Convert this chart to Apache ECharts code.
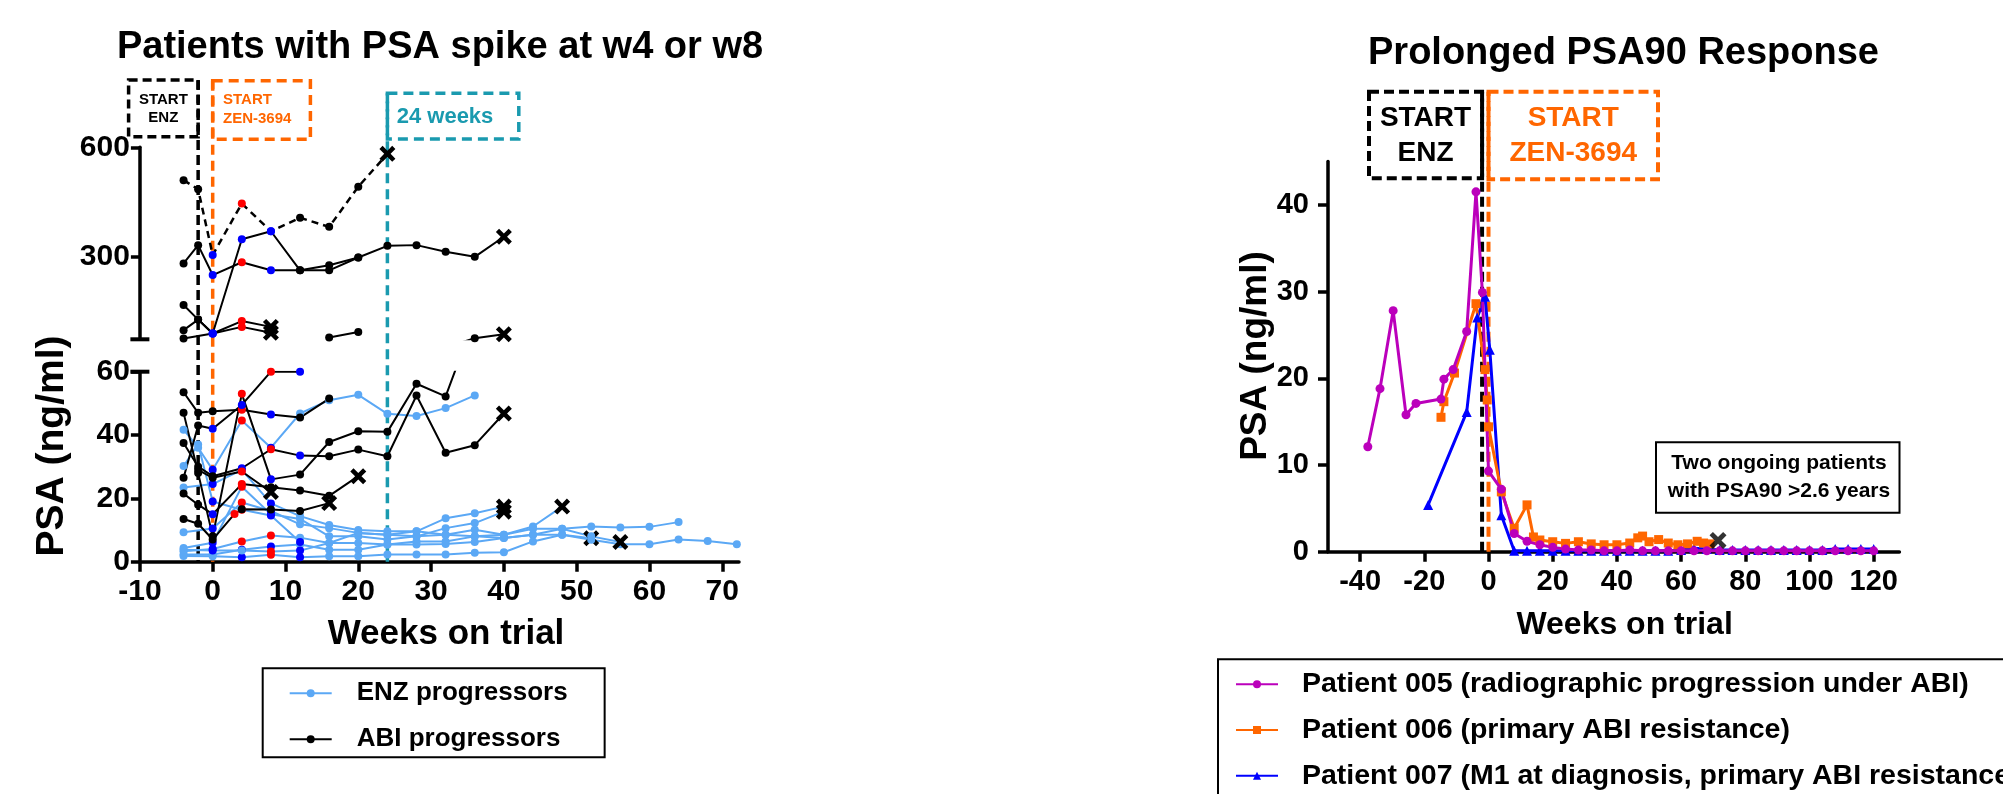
<!DOCTYPE html>
<html><head><meta charset="utf-8">
<script src="https://cdn.jsdelivr.net/npm/echarts@6/dist/echarts.min.js"></script>
<style>html,body{margin:0;padding:0;background:#fff}#c{width:2003px;height:794px}</style>
</head><body><div id="c"></div>
<script>
// ---------------- LEFT PANEL DATA: [week, PSA, flag]  flag: r = red point, b = blue point, x = progression
const leftWeekTicks = [-10, 0, 10, 20, 30, 40, 50, 60, 70];
const lowerPsaTicks = [0, 20, 40, 60];
const upperPsaTicks = [300, 600];

// ENZ progressors
const enz1 = [[-4,41.7],[-2,36],[0,29,'b'],[4,44.6,'r'],[8,36,'b'],[12,46.8],[16,51],[20,52.7],[24,46.7],[28,46],[32,48.5],[36,52.5]];
const enz2 = [[-4,23.4],[0,24.5,'b'],[4,29,'b'],[8,18.4,'b'],[12,14.4],[16,11.6],[20,10],[24,9.6],[28,9.6],[32,13.7],[36,15.3],[40,17.4,'x']];
const enz3 = [[-4,9.3],[0,10.5,'b'],[4,18.7,'r'],[8,16,'b'],[12,11.8],[16,10.6],[20,9.1],[24,8.5],[28,8.0],[32,10.6],[36,12.2],[40,15.8,'x']];
const enz4 = [[-4,4.3],[0,6,'b'],[4,23.7,'r'],[8,15,'b'],[12,13.5],[16,8.0],[20,8.0],[24,7.0],[28,8.0],[32,8.5],[36,10.1],[40,8.5],[44,11.1],[48,17.4,'x']];
const enz5 = [[-4,3.3],[0,4,'b'],[4,6.4,'r'],[8,8.3,'r'],[12,7.6],[16,5.9],[20,5.9],[24,5.4],[28,6.4],[32,6.4],[36,8.0],[40,7.5],[44,8.5],[48,10.4],[52,11.1],[56,10.8],[60,11],[64,12.5]];
const enz6 = [[-4,2.3],[0,2.3],[4,3.8,'b'],[8,4.8,'b'],[12,5.4],[16,3.8],[20,3.8],[24,5.4],[28,5.4],[32,5.6],[36,6.2],[40,7.5],[44,8.5],[48,8.5],[52,7.4,'x']];
const enz7 = [[-4,1.8],[0,1.7],[4,1.4,'b'],[8,2.2,'r'],[12,1.4,'b'],[16,1.7],[20,1.7],[24,2.3],[28,2.3],[32,2.3],[36,2.8],[40,3.0],[44,6.4],[48,8.5],[52,6.9],[56,5.5],[60,5.5],[64,7],[68,6.5],[72,5.5]];
const enz8 = [[-4,3.8],[0,3.5,'b'],[4,3.5],[8,3.2,'r'],[12,3.5,'b'],[16,5.9],[20,9.1],[24,8.5],[28,9.6],[32,8.5],[36,8.0],[40,8.5],[44,10.4],[48,10.4],[52,8],[56,6.2,'x']];
const enz9 = [[-4,30.2],[-2,37],[0,19,'b'],[4,16.4,'r'],[8,14.6,'b'],[12,6.2,'b']];
const enzPatients = [enz1, enz2, enz3, enz4, enz5, enz6, enz7, enz8, enz9];

// ABI progressors
const abi1 = [[-4,282],[-2,332],[0,250,'b'],[4,285,'r'],[8,263,'b'],[12,263],[16,263],[20,298],[24,330],[28,332],[32,314],[36,300],[40,355,'x']];
const abi2 = [[-4,510],[-2,485],[0,305,'b'],[4,446,'r'],[8,370,'b'],[12,407],[16,382],[20,492],[24,582,'x']];
const abi3 = [[-4,76],[0,90,'b'],[4,348,'b'],[8,370,'b'],[12,263],[16,277],[20,298]];
const abi4 = [[-4,168],[-2,128],[0,90,'b'],[4,124,'r'],[8,108,'x']];
const abi5 = [[-4,99],[-2,128],[0,90,'b'],[4,108,'r'],[8,92,'x']];
const abi6 = [[16,79],[20,94]];
const abi7 = [[-4,47],[-2,28],[0,8],[4,53,'r'],[8,26,'b'],[12,27.5],[16,37.8],[20,41.2],[24,41],[28,56.2],[32,52.2],[36,77],[40,88,'x']];
const abi8 = [[-4,53.5],[-2,47],[0,47.5],[4,48,'r'],[8,46.5,'b'],[12,45.5],[16,51.5]];
const abi9 = [[-4,37.5],[-2,30],[0,27],[4,29.5,'b'],[8,35.5,'r'],[12,33.5,'b'],[16,33.3],[20,35.4],[24,33.3],[28,52.5],[32,34.4],[36,36.8],[40,46.8,'x']];
const abi10 = [[-4,26.5],[-2,43],[0,42,'b'],[4,49.5,'b'],[8,60,'r'],[12,60,'b']];
const abi11 = [[-4,21.5],[-2,18],[0,15,'b'],[4,24.5,'r'],[8,23.5],[12,22.5],[16,20.8],[20,27,'x']];
const abi12 = [[-4,13.5],[-2,12],[0,7],[3,15.1,'r'],[4,16.6],[8,16.5],[12,16],[16,18.5,'x']];
const abi13 = [[-2,29],[0,26.5],[4,28.5,'r'],[8,22,'x']];
const abiPatients = [abi1, abi3, abi4, abi5, abi6, abi7, abi8, abi9, abi10, abi11, abi12, abi13];
const abiDashedPatients = [abi2];

// ---------------- RIGHT PANEL DATA
const rightWeekTicks = [-40, -20, 0, 20, 40, 60, 80, 100, 120];
const rightPsaTicks = [0, 10, 20, 30, 40];
const p005Name = 'Patient 005 (radiographic progression under ABI)';
const p006Name = 'Patient 006 (primary ABI resistance)';
const p007Name = 'Patient 007 (M1 at diagnosis, primary ABI resistance)';
const p005Weeks = [-37.6,-33.8,-29.7,-25.7,-22.6,-14.8,-13.9,-11,-6.8,-3.9,-1.9,0,4,8,12,16,20,24,28,32,36,40,44,48,52,56,60,64,68,72,76,80,84,88,92,96,100,104,108,112,116,120];
const p005Psa = [12.1,18.8,27.8,15.8,17.1,17.6,19.9,21.0,25.4,41.5,29.9,9.3,7.2,2.1,1.2,0.8,0.5,0.3,0.2,0.2,0.1,0.1,0.2,0.1,0.1,0.1,0.1,0.1,0.1,0.1,0.1,0.1,0.1,0.1,0.1,0.1,0.1,0.1,0.1,0.1,0.1,0.1];
const p006Weeks = [-14.8,-13.9,-10.6,-3.9,-1.1,-0.4,0,4,8,12,14,16,20,24,28,32,36,40,44,46.5,48,50,53,56,59,62,65,67,69];
const p006Psa = [15.5,17.3,20.6,28.6,21.0,17.5,14.4,6.9,2.7,5.4,1.7,1.35,1.15,0.96,1.15,0.9,0.8,0.8,1.0,1.6,1.8,1.15,1.4,1.0,0.8,0.9,1.2,1.0,0.9];
const p007Weeks = [-18.8,-6.8,-3.5,-1.1,0.4,4,8,12,16,20,24,28,32,36,40,44,48,52,56,60,64,68,72,76,80,84,88,92,96,100,104,108,112,116,120];
const p007Psa = [5.4,16.1,27.0,29.4,23.3,4.2,0.1,0.1,0.1,0.1,0.1,0.1,0.1,0.1,0.1,0.1,0.1,0.1,0.1,0.2,0.4,0.3,0.2,0.2,0.2,0.2,0.2,0.2,0.2,0.2,0.2,0.3,0.3,0.3,0.3];
const progressionMark = [[71.5, 1.3]];

// ---------------- STYLE
const FONT = '"Liberation Sans", Arial, Helvetica, sans-serif';
const RED = '#FF0000', BLUE = '#0000FF', ENZC = '#5BA8F5', ORANGE = '#FF6600', TEAL = '#1A9AAF', MAG = '#BB00BB';
const XPATH = 'path://M0,2L2,0L5,3L8,0L10,2L7,5L10,8L8,10L5,7L2,10L0,8L3,5Z';

function items(arr, xSize) {
  return arr.map(p => {
    const it = { value: [p[0], p[1]] };
    if (p[2] === 'r') it.itemStyle = { color: RED };
    else if (p[2] === 'b') it.itemStyle = { color: BLUE };
    else if (p[2] === 'x') { it.symbol = XPATH; it.symbolSize = xSize; it.itemStyle = { color: '#000' }; }
    return it;
  });
}

const series = [];
function addLeft(arr, name, color, dashed) {
  [0, 1].forEach(g => series.push({
    type: 'line', name, xAxisIndex: g, yAxisIndex: g, data: items(arr, 16),
    symbol: 'circle', symbolSize: 8, clip: true,
    lineStyle: { color, width: dashed ? 2.5 : 2, type: dashed ? [7, 5] : 'solid' },
    itemStyle: { color }, emphasis: { disabled: true }
  }));
}
enzPatients.forEach(a => addLeft(a, 'ENZ progressors', ENZC, false));
abiPatients.forEach(a => addLeft(a, 'ABI progressors', '#000', false));
abiDashedPatients.forEach(a => addLeft(a, 'ABI progressors', '#000', true));

function rightSeries(name, weeks, psa, color, symbol, size) {
  return {
    type: 'line', name, xAxisIndex: 2, yAxisIndex: 2,
    data: weeks.map((w, i) => [w, psa[i]]),
    symbol, symbolSize: size, lineStyle: { color, width: 3 }, itemStyle: { color },
    emphasis: { disabled: true }
  };
}
series.push(rightSeries(p007Name, p007Weeks, p007Psa, BLUE, 'triangle', 10));
series.push(rightSeries(p006Name, p006Weeks, p006Psa, ORANGE, 'rect', 9));
series.push(rightSeries(p005Name, p005Weeks, p005Psa, MAG, 'circle', 9));
series.push({ type: 'scatter', name: 'progression', xAxisIndex: 2, yAxisIndex: 2, data: progressionMark,
  symbol: XPATH, symbolSize: 17, itemStyle: { color: '#000' }, z: 5 });

const lab = (size, margin, vals) => ({ customValues: vals, fontSize: size, fontWeight: 'bold', color: '#000', fontFamily: FONT, margin });
const axLine = w => ({ show: true, onZero: false, lineStyle: { color: '#000', width: w } });
const tick = (len, w, vals) => ({ show: true, length: len, customValues: vals, lineStyle: { color: '#000', width: w } });

const option = {
  animation: false,
  backgroundColor: '#fff',
  grid: [
    { left: 139.9, top: 371.7, width: 599.1, height: 190 },
    { left: 139.9, top: 147.3, width: 599.1, height: 192 },
    { left: 1328, top: 161.5, width: 571.4, height: 390.2 }
  ],
  xAxis: [
    { type: 'value', gridIndex: 0, min: -10, max: 72.3, axisLine: axLine(3.5), axisTick: tick(10, 3.5, leftWeekTicks), axisLabel: lab(30, 15, leftWeekTicks), splitLine: { show: false } },
    { type: 'value', gridIndex: 1, min: -10, max: 72.3, show: false, splitLine: { show: false } },
    { type: 'value', gridIndex: 2, min: -50, max: 128, axisLine: axLine(3.5), axisTick: tick(10, 3.5, rightWeekTicks), axisLabel: lab(29, 16, rightWeekTicks), splitLine: { show: false } }
  ],
  yAxis: [
    { type: 'value', gridIndex: 0, min: 0, max: 60, axisLine: axLine(3.5), axisTick: tick(9, 3.5, lowerPsaTicks), axisLabel: lab(30, 10, lowerPsaTicks), splitLine: { show: false } },
    { type: 'value', gridIndex: 1, min: 74, max: 600, axisLine: axLine(3.5), axisTick: tick(9, 3.5, upperPsaTicks), axisLabel: lab(30, 10, upperPsaTicks), splitLine: { show: false } },
    { type: 'value', gridIndex: 2, min: 0, max: 45, axisLine: axLine(3.5), axisTick: tick(10, 3.5, rightPsaTicks), axisLabel: lab(29, 19, rightPsaTicks), splitLine: { show: false } }
  ],
  legend: [
    { data: ['ENZ progressors', 'ABI progressors'], orient: 'vertical', left: 262.7, top: 668.3,
      itemWidth: 42, itemHeight: 10, itemGap: 16, padding: [10, 37, 3, 26], borderColor: '#000', borderWidth: 2,
      selectedMode: false,
      textStyle: { fontSize: 26, fontWeight: 'bold', color: '#000', fontFamily: FONT, lineHeight: 30, padding: [0, 0, 0, 20] } },
    { data: [p005Name, p006Name, p007Name], orient: 'vertical', left: 1218, top: 659.3, height: 300, width: 1200,
      itemWidth: 42, itemHeight: 10, itemGap: 15.7, padding: [10, 60, 10, 17], borderColor: '#000', borderWidth: 2,
      selectedMode: false,
      textStyle: { fontSize: 28.5, fontWeight: 'bold', color: '#000', fontFamily: FONT, lineHeight: 30, padding: [0, 0, 0, 19] } }
  ],
  series
};

const chart = echarts.init(document.getElementById('c'), null, { renderer: 'canvas' });
chart.setOption(option);

const px = (i, v) => chart.convertToPixel({ xAxisIndex: i }, v);
const py = (i, v) => chart.convertToPixel({ yAxisIndex: i }, v);
const G = [];
function text(t, x, y, size, color, align, rot) {
  G.push({ type: 'text', x, y, rotation: rot || 0, z: 10,
    style: { text: t, x: 0, y: 0, fill: color, font: 'bold ' + size + 'px ' + FONT,
      align: align || 'center', verticalAlign: 'middle', textAlign: align || 'center', textVerticalAlign: 'middle' } });
}
function vline(x, y1, y2, color, w, dash) {
  G.push({ type: 'line', z: 1, shape: { x1: x, y1, x2: x, y2 }, style: { stroke: color, lineWidth: w, lineDash: dash } });
}
function hline(x1, x2, y, color, w) {
  G.push({ type: 'line', z: 10, shape: { x1, y1: y, x2, y2: y }, style: { stroke: color, lineWidth: w } });
}
function box(x1, y1, x2, y2, color, w, dash) {
  G.push({ type: 'rect', z: 1, shape: { x: x1, y: y1, width: x2 - x1, height: y2 - y1 }, style: { fill: null, stroke: color, lineWidth: w, lineDash: dash } });
}

// left panel annotations
const Lb = py(0, 0);
const Lm2 = px(0, -2), L0 = px(0, 0), L24 = px(0, 24), Lax = px(0, -10);
box(128.6, 80, Lm2, 136.7, '#000', 3.5, [9, 5]);
vline(Lm2, 80, Lb, '#000', 3.5, [10, 5]);
box(L0, 80.7, 310.4, 139.3, ORANGE, 3.5, [10, 6]);
vline(L0, 80.7, Lb, ORANGE, 3.5, [10, 6]);
box(L24, 93.3, 518.8, 139, TEAL, 3.5, [10, 6]);
vline(L24, 93.3, Lb, TEAL, 3.5, [10, 6]);
text('START', (128.6 + Lm2) / 2, 100, 15, '#000');
text('ENZ', (128.6 + Lm2) / 2, 118.3, 15, '#000');
text('START', L0 + 10.3, 100, 15, ORANGE, 'left');
text('ZEN-3694', L0 + 10.3, 119.3, 15, ORANGE, 'left');
text('24 weeks', L24 + 9.3, 116.7, 22, TEAL, 'left');
hline(Lax - 9.5, Lax + 9.5, py(0, 60), '#000', 4);
hline(Lax - 9.5, Lax + 9.5, py(1, 74), '#000', 4);
text('Patients with PSA spike at w4 or w8', 440, 47.5, 38, '#000');
text('Weeks on trial', 446, 634, 35, '#000');
text('PSA (ng/ml)', 52, 446, 39, '#000', 'center', Math.PI / 2);

// right panel annotations
const Rb = py(2, 0);
const Rm2 = px(2, -2), R0 = px(2, 0);
box(1369, 91.7, Rm2, 178.3, '#000', 4, [10, 5]);
vline(Rm2, 91.7, Rb, '#000', 4, [10, 5]);
box(R0, 91.7, 1658, 179.3, ORANGE, 4, [10, 5]);
vline(R0, 91.7, Rb, ORANGE, 4, [10, 5]);
text('START', (1369 + Rm2) / 2, 118.3, 28, '#000');
text('ENZ', (1369 + Rm2) / 2, 153.3, 28, '#000');
text('START', (R0 + 1658) / 2, 118, 28, ORANGE);
text('ZEN-3694', (R0 + 1658) / 2, 153, 28, ORANGE);
G.push({ type: 'rect', z: 1, shape: { x: 1656, y: 442.3, width: 243.5, height: 70.4 }, style: { fill: '#fff', stroke: '#000', lineWidth: 2 } });
text('Two ongoing patients', 1779, 463.5, 21, '#000');
text('with PSA90 >2.6 years', 1779, 491.5, 21, '#000');
text('Prolonged PSA90 Response', 1623.5, 54, 38, '#000');
text('Weeks on trial', 1624.6, 625, 32, '#000');
text('PSA (ng/ml)', 1256, 356, 37, '#000', 'center', Math.PI / 2);

chart.setOption({ graphic: { elements: G } });
</script></body></html>
